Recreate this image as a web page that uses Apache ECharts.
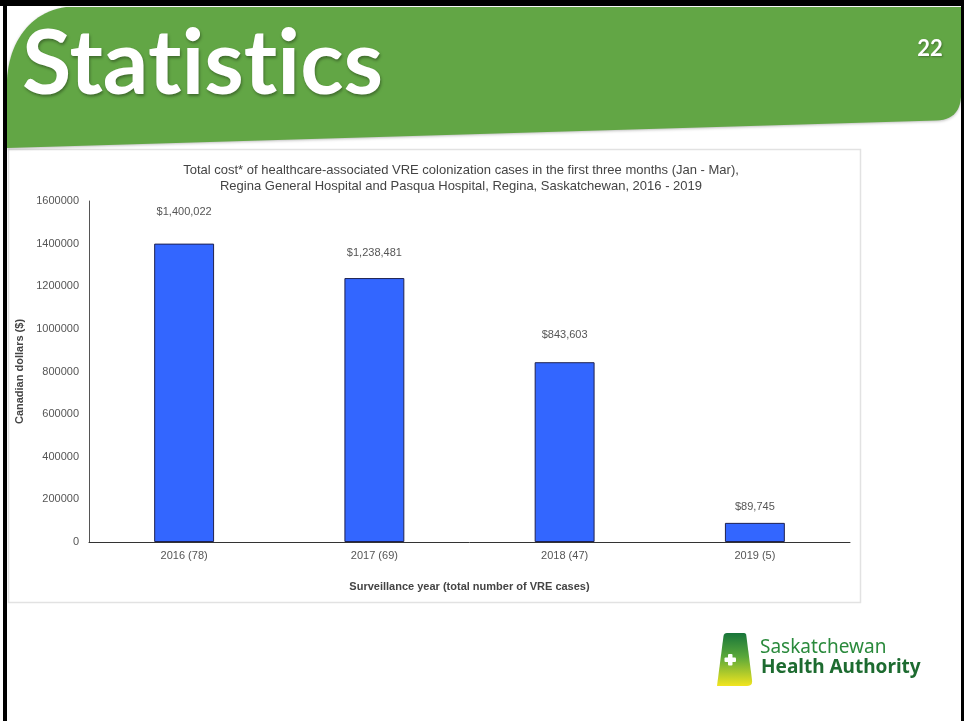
<!DOCTYPE html>
<html>
<head>
<meta charset="utf-8">
<script src="https://cdn.jsdelivr.net/npm/echarts@6/dist/echarts.min.js"></script>
<style>
  html, body { margin: 0; padding: 0; background: #ffffff; }
  #chart { width: 964px; height: 721px; }
</style>
</head>
<body>
<div id="chart"></div>
<script>
// ---- data ----
var categories = ['2016 (78)', '2017 (69)', '2018 (47)', '2019 (5)'];
var costValues = [1400022, 1238481, 843603, 89745];
var yTicks = { min: 0, max: 1600000, interval: 200000 };
var chartTitle = 'Total cost* of healthcare-associated VRE colonization cases in the first three months (Jan - Mar),\nRegina General Hospital and Pasqua Hospital, Regina, Saskatchewan, 2016 - 2019';
var xAxisName = 'Surveillance year (total number of VRE cases)';
var yAxisName = 'Canadian dollars ($)';
var slideTitle = 'Statistics';
var slideNumber = '22';
var logoLine1 = 'Saskatchewan';
var logoLine2 = 'Health Authority';
// label gap above each bar (style)
var labelGaps = [26, 20, 22, 10];

// draw the big slide title without "ti" ligatures
(function () {
  var proto = CanvasRenderingContext2D.prototype;
  var origFill = proto.fillText;
  proto.fillText = function (txt) {
    if (txt === slideTitle && 'textRendering' in this) {
      var prev = this.textRendering;
      this.textRendering = 'optimizeSpeed';
      var r = origFill.apply(this, arguments);
      this.textRendering = prev;
      return r;
    }
    return origFill.apply(this, arguments);
  };
})();

function fmtMoney(v) {
  return '$' + v.toLocaleString('en-US');
}

// sample a cubic bezier into points (decoration only)
function bez(p0, p1, p2, p3, n) {
  var out = [];
  for (var i = 1; i <= n; i++) {
    var t = i / n, u = 1 - t;
    out.push([
      u * u * u * p0[0] + 3 * u * u * t * p1[0] + 3 * u * t * t * p2[0] + t * t * t * p3[0],
      u * u * u * p0[1] + 3 * u * u * t * p1[1] + 3 * u * t * t * p2[1] + t * t * t * p3[1]
    ]);
  }
  return out;
}

var bannerPts = [[7, 148], [7, 80]]
  .concat(bez([7, 80], [9, 42], [30, 12], [66, 7], 24))
  .concat([[961, 7], [961, 97]])
  .concat(bez([961, 97], [960, 112], [952, 120], [936, 120.5], 12));

var logoPts = [[727, 633], [744, 633]]
  .concat(bez([744, 633], [745.5, 633], [746.2, 634], [746.3, 635.5], 4))
  .concat([[752, 680]])
  .concat(bez([752, 680], [752.6, 684], [751, 686], [747, 686], 6))
  .concat([[717, 686], [723.5, 636]])
  .concat(bez([723.5, 636], [723.8, 634], [725, 633], [727, 633], 4));

var chart = echarts.init(document.getElementById('chart'), null, { renderer: 'canvas' });

var barData = costValues.map(function (v, i) {
  return { value: v, label: { distance: labelGaps[i] } };
});

var option = {
  backgroundColor: '#ffffff',
  animation: false,
  title: {
    text: chartTitle,
    left: 456,
    top: 157,
    textAlign: 'center',
    textStyle: {
      fontFamily: 'Liberation Sans, Arial, sans-serif',
      fontSize: 13,
      fontWeight: 'normal',
      color: '#444444',
      lineHeight: 16
    }
  },
  grid: { left: 89, right: 114, top: 201, bottom: 179, containLabel: false },
  xAxis: {
    type: 'category',
    data: categories,
    axisLine: { show: true, lineStyle: { color: '#333333', width: 1 } },
    axisTick: { show: false },
    axisLabel: {
      margin: 8,
      fontFamily: 'Liberation Sans, Arial, sans-serif',
      fontSize: 11,
      color: '#555555'
    },
    name: xAxisName,
    nameLocation: 'middle',
    nameGap: 39,
    nameTextStyle: {
      fontFamily: 'Liberation Sans, Arial, sans-serif',
      fontSize: 11,
      fontWeight: 'bold',
      color: '#444444'
    }
  },
  yAxis: {
    type: 'value',
    min: yTicks.min,
    max: yTicks.max,
    interval: yTicks.interval,
    splitLine: { show: false },
    axisLine: { show: true, lineStyle: { color: '#555555', width: 1 } },
    axisTick: { show: false },
    axisLabel: {
      margin: 10,
      formatter: function (v) { return String(v); },
      fontFamily: 'Liberation Sans, Arial, sans-serif',
      fontSize: 11,
      color: '#555555'
    },
    name: yAxisName,
    nameLocation: 'middle',
    nameRotate: 90,
    nameGap: 62,
    nameTextStyle: {
      fontFamily: 'Liberation Sans, Arial, sans-serif',
      fontSize: 11,
      fontWeight: 'bold',
      color: '#444444'
    }
  },
  series: [{
    type: 'bar',
    data: barData,
    barWidth: '31.5%',
    itemStyle: { color: '#3366ff', borderColor: '#1f2250', borderWidth: 1 },
    label: {
      show: true,
      position: 'top',
      formatter: function (p) { return fmtMoney(p.value); },
      fontFamily: 'Liberation Sans, Arial, sans-serif',
      fontSize: 11,
      color: '#555555'
    }
  }],
  graphic: {
    elements: [
      // chart box
      {
        type: 'rect', z: -10, silent: true,
        shape: { x: 8.5, y: 149.5, width: 852, height: 453 },
        style: { fill: '#ffffff', stroke: '#e2e2e2', lineWidth: 1.5 }
      },
      // green banner
      {
        type: 'polygon', z: -5, silent: true,
        shape: { points: bannerPts },
        style: { fill: '#62a645', shadowBlur: 3, shadowColor: 'rgba(0,0,0,0.25)', shadowOffsetY: 1 }
      },
      {
        type: 'text', z: 5, silent: true,
        style: {
          x: 22, y: 65, text: slideTitle,
          font: 'bold 90px Lato, "Open Sans", sans-serif',
          fill: '#ffffff', verticalAlign: 'middle', align: 'left',
          textShadowBlur: 3, textShadowColor: 'rgba(0,0,0,0.35)', textShadowOffsetX: 1, textShadowOffsetY: 2
        }
      },
      {
        type: 'text', z: 5, silent: true,
        style: {
          x: 930, y: 49, text: slideNumber,
          font: 'bold 22px Lato, "Open Sans", sans-serif',
          fill: '#ffffff', verticalAlign: 'middle', align: 'center',
          textShadowBlur: 2, textShadowColor: 'rgba(0,0,0,0.3)', textShadowOffsetX: 1, textShadowOffsetY: 1
        }
      },
      // slide border
      { type: 'rect', z: 20, silent: true, shape: { x: 0, y: 0, width: 964, height: 6 }, style: { fill: '#000000' } },
      { type: 'rect', z: 20, silent: true, shape: { x: 3, y: 0, width: 4, height: 721 }, style: { fill: '#000000' } },
      { type: 'rect', z: 20, silent: true, shape: { x: 961, y: 0, width: 3, height: 721 }, style: { fill: '#000000' } },
      // logo
      {
        type: 'polygon', z: 5, silent: true,
        shape: { points: logoPts },
        style: {
          fill: {
            type: 'linear', x: 0, y: 0, x2: 0, y2: 1,
            colorStops: [
              { offset: 0, color: '#18753a' },
              { offset: 0.45, color: '#5aa83a' },
              { offset: 1, color: '#f2e51f' }
            ]
          }
        }
      },
      { type: 'rect', z: 6, silent: true, shape: { x: 724.5, y: 657.5, width: 11.5, height: 4.5, r: 1 }, style: { fill: '#ffffff' } },
      { type: 'rect', z: 6, silent: true, shape: { x: 728, y: 654, width: 4.5, height: 11.5, r: 1 }, style: { fill: '#ffffff' } },
      {
        type: 'text', z: 5, silent: true,
        style: {
          x: 760, y: 658,
          text: '{a|' + logoLine1 + '}\n{b|' + logoLine2 + '}',
          verticalAlign: 'middle', align: 'left',
          rich: {
            a: {
              fontFamily: '"Noto Sans", "Open Sans", sans-serif',
              fontSize: 19, fontWeight: 'normal',
              lineHeight: 20, fill: '#2a8a3c', color: '#2a8a3c'
            },
            b: {
              fontFamily: '"Noto Sans", "Open Sans", sans-serif',
              fontSize: 19, fontWeight: 'bold',
              lineHeight: 20, fill: '#1d6b30', color: '#1d6b30',
              padding: [0, 0, 0, 1]
            }
          }
        }
      }
    ]
  }
};

chart.setOption(option);
</script>
</body>
</html>
